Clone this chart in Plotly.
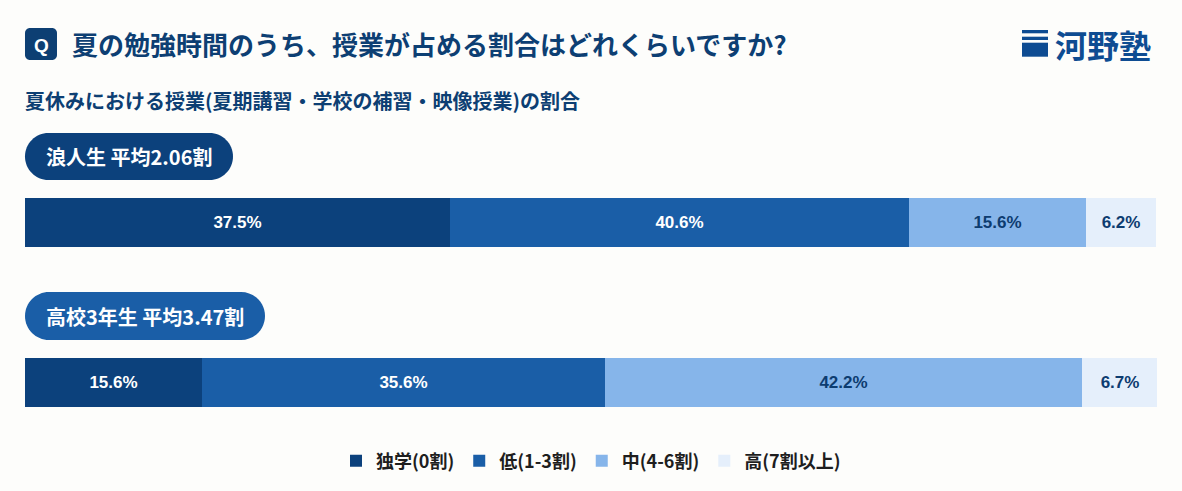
import plotly.graph_objects as go

W, H = 1182, 491

# data
groups = ["浪人生", "高校3年生"]
group_labels = ["浪人生 平均2.06割", "高校3年生 平均3.47割"]
categories = ["独学(0割)", "低(1-3割)", "中(4-6割)", "高(7割以上)"]
shares = {
    "独学(0割)": [37.5, 15.6],
    "低(1-3割)": [40.6, 35.6],
    "中(4-6割)": [15.6, 42.2],
    "高(7割以上)": [6.2, 6.7],
}

colors = {
    "独学(0割)": "#0c417c",
    "低(1-3割)": "#1a5ea7",
    "中(4-6割)": "#86b5ea",
    "高(7割以上)": "#e5effb",
}
text_colors = {
    "独学(0割)": "#ffffff",
    "低(1-3割)": "#ffffff",
    "中(4-6割)": "#0d3c70",
    "高(7割以上)": "#0d3c70",
}
pill_colors = ["#0c417c", "#1a5ea7"]

NAVY = "#0d3f73"
BG = "#fdfdfb"
JP = "Noto Sans CJK JP"
NUM = "Liberation Sans, Arial, Noto Sans CJK JP"


def px(x):
    return x / W


def py(y):
    return 1 - y / H


def rounded_rect(x0, y0, x1, y1, r):
    """Rounded rectangle path (pixel coords in, paper coords out)."""
    k = 0.5523 * r
    pts = [
        ("M", [(x0 + r, y0)]),
        ("L", [(x1 - r, y0)]),
        ("C", [(x1 - r + k, y0), (x1, y0 + r - k), (x1, y0 + r)]),
        ("L", [(x1, y1 - r)]),
        ("C", [(x1, y1 - r + k), (x1 - r + k, y1), (x1 - r, y1)]),
        ("L", [(x0 + r, y1)]),
        ("C", [(x0 + r - k, y1), (x0, y1 - r + k), (x0, y1 - r)]),
        ("L", [(x0, y0 + r)]),
        ("C", [(x0, y0 + r - k), (x0 + r - k, y0), (x0 + r, y0)]),
    ]
    out = []
    for cmd, ps in pts:
        out.append(cmd + " " + " ".join(f"{px(a):.5f},{py(b):.5f}" for a, b in ps))
    return " ".join(out) + " Z"


def note(x, y, text, size, color, family=JP, xanchor="center"):
    return dict(x=px(x), y=py(y), xref="paper", yref="paper",
                xanchor=xanchor, yanchor="middle", text=text,
                showarrow=False, font=dict(family=family, size=size, color=color))


fig = go.Figure()

for cat in categories:
    vals = shares[cat]
    fig.add_trace(go.Bar(
        y=groups,
        x=vals,
        name=cat,
        orientation="h",
        width=0.306,
        marker=dict(color=colors[cat], line=dict(width=0)),
        text=[f"{v}%" for v in vals],
        textposition="inside",
        insidetextanchor="middle",
        textangle=0,
        constraintext="none",
        textfont=dict(family=NUM, size=17, color=text_colors[cat], weight="bold"),
        hoverinfo="skip",
    ))

# category 0 centred at y=222.5px, 1 at 382.5px, 160px per unit
top = -222.5 / 160
bottom = top + H / 160

shapes = []
annotations = []

# Q icon + title
shapes.append(dict(type="path", xref="paper", yref="paper",
                   path=rounded_rect(25, 28, 57, 60, 5),
                   fillcolor=NAVY, line=dict(width=0), layer="above"))
annotations.append(note(41, 45, "<b>Q</b>", 19, "#ffffff", family=NUM))
annotations.append(note(70, 44, "<b>夏の勉強時間のうち、授業が占める割合はどれくらいですか?</b>",
                        26, NAVY, xanchor="left"))
annotations.append(note(23, 100, "<b>夏休みにおける授業(夏期講習・学校の補習・映像授業)の割合</b>",
                        20, NAVY, xanchor="left"))

# logo
LOGO = "#0e4c92"
for y0, y1 in [(30, 33.3), (36.7, 40), (42.7, 56.7)]:
    shapes.append(dict(type="rect", xref="paper", yref="paper",
                       x0=px(1022), x1=px(1048), y0=py(y1), y1=py(y0),
                       fillcolor=LOGO, line=dict(width=0)))
annotations.append(note(1153, 44, "<b>河野塾</b>", 32, LOGO, xanchor="right"))

# group pills
pills = [(25, 133, 233, 180), (25, 292, 265, 340)]
for (x0, y0, x1, y1), label, col in zip(pills, group_labels, pill_colors):
    shapes.append(dict(type="path", xref="paper", yref="paper",
                       path=rounded_rect(x0, y0, x1, y1, (y1 - y0) / 2),
                       fillcolor=col, line=dict(width=0)))
    annotations.append(note((x0 + x1) / 2, (y0 + y1) / 2, f"<b>{label}</b>",
                            20, "#ffffff"))

fig.update_layout(
    width=W,
    height=H,
    margin=dict(l=0, r=0, t=0, b=0),
    paper_bgcolor=BG,
    plot_bgcolor=BG,
    barmode="stack",
    bargap=0,
    showlegend=True,
    xaxis=dict(domain=[px(25), px(1157)], range=[0, 100],
               visible=False, fixedrange=True),
    yaxis=dict(domain=[0, 1], range=[bottom, top], type="category",
               categoryorder="array", categoryarray=groups,
               visible=False, fixedrange=True),
    legend=dict(orientation="h", x=0.5, xanchor="center",
                y=py(461), yanchor="middle", traceorder="normal",
                font=dict(family=JP, size=18, color="#1e1e1e", weight="bold"),
                itemwidth=30, bgcolor="rgba(0,0,0,0)"),
    shapes=shapes,
    annotations=annotations,
)

fig.write_html("out.html", config={"displayModeBar": False},
               post_script="document.body.style.margin='0';")
